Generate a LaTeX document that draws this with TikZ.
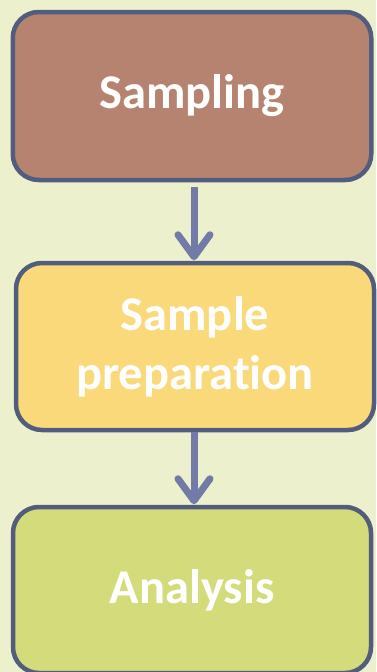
\documentclass[tikz,border=0pt]{standalone}
\usepackage{fontspec}
\setmainfont[Ligatures=NoCommon]{Carlito}
\usetikzlibrary{arrows.meta}
\definecolor{bgc}{HTML}{EDF0CD}
\definecolor{edgec}{HTML}{525C7D}
\definecolor{arrc}{HTML}{727BA8}
\definecolor{fillA}{HTML}{B68370}
\definecolor{fillB}{HTML}{FAD97B}
\definecolor{fillC}{HTML}{D3DB7B}
\begin{document}
\begin{tikzpicture}[x=1pt,y=-1pt,
  stepbox/.style={draw=edgec, line width=4.5pt, rounded corners=26pt, rectangle,
    inner sep=0pt, text=white, align=center,
    font=\fontsize{48.5}{59}\selectfont\bfseries},
  flow/.style={draw=arrc, line width=7pt,
    -{Straight Barb[length=22pt, width=32pt, round]}}]
\fill[bgc] (0,0) rectangle (376,672);
\useasboundingbox (0,0) rectangle (376,672);
\node[stepbox, fill=fillA, minimum width=358.5pt, minimum height=168pt] (a) at (192,96) {Sampling};
\node[stepbox, fill=fillB, minimum width=358pt, minimum height=167pt] (b) at (195,346.5) {Sample\\preparation};
\node[stepbox, fill=fillC, minimum width=358pt, minimum height=166pt] (c) at (192,590) {Analysis};
\draw[flow, shorten <=5pt, shorten >=0.5pt] (a.south -| 194,0) -- (b.north -| 194,0);
\draw[flow, shorten <=0pt, shorten >=0.5pt] (b.south -| 194,0) -- (c.north -| 194,0);
\end{tikzpicture}
\end{document}
